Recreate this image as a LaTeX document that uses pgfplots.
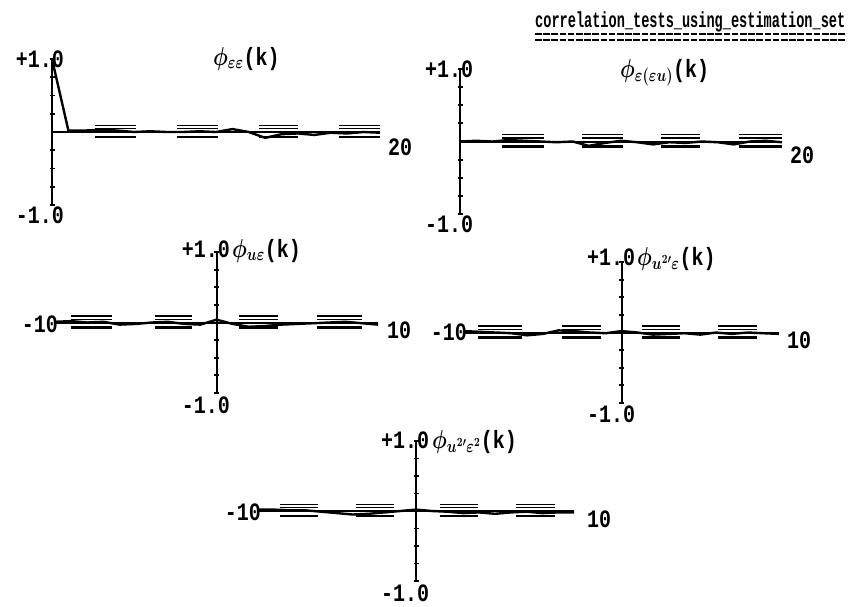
\documentclass[border=0pt]{standalone}
\usepackage{fontspec}
\usepackage{graphicx}
\usepackage{pgfplots}
\pgfplotsset{compat=1.18}
\newfontfamily\monofam{Liberation Mono}
% printer-like lettering: mono, bold, a little taller than wide
\newcommand{\lab}[1]{\scalebox{1}[1.25]{\fontsize{20}{22}\selectfont\monofam\bfseries\boldmath #1}}

\pgfplotsset{
  corr/.style={
    scale only axis, axis lines=middle, axis line style={-, line width=2pt},
    enlargelimits=false, clip=false,
    ymin=-1, ymax=1, xtick=\empty,
    ytick={-1,-0.75,-0.5,-0.25,0.25,0.5,0.75,1}, yticklabels={},
    tick align=center, major tick length=5pt,
    tick style={line width=1.8pt, black},
    unbounded coords=jump,
  },
  dat/.style={black, line width=2.4pt, line join=round},
  bandup/.style={black, line width=1.3pt, double=white, double distance=2pt},
  banddn/.style={black, line width=2.4pt},
}

\begin{document}
\begin{tikzpicture}
\useasboundingbox (0pt,0pt) rectangle (848pt,-606pt);

% title
\node[anchor=base west, inner sep=0] at (535pt,-27pt)
  {\scalebox{1}[1.6]{\fontsize{13.6}{15}\selectfont\monofam\bfseries correlation\_tests\_using\_estimation\_set}};
\draw[line width=1.6pt, dash pattern=on 6.6pt off 1.6pt] (535pt,-34pt) -- (845pt,-34pt);
\draw[line width=1.6pt, dash pattern=on 6.6pt off 1.6pt] (535pt,-40pt) -- (845pt,-40pt);

% ---- phi_ee(k), lags 0..20
\begin{axis}[corr, at={(52pt,-205pt)}, anchor=south west, width=328pt, height=146pt, xmin=0, xmax=20]
\addplot[dat] coordinates {(0,1.0)(1,0.02)(2,0.02)(3,0.03)(4,0.02)(5,0.0)(6,0.01)(7,0.0)(8,0.0)(9,0.01)(10,0.0)
  (11,0.04)(12,0.0)(13,-0.08)(14,-0.03)(15,-0.02)(16,-0.04)(17,-0.01)(18,-0.02)(19,0.0)(20,-0.01)};
\addplot[bandup] coordinates {(2.6,0.07)(5.1,0.07)(6,nan)(7.6,0.07)(10.1,0.07)(11,nan)(12.6,0.07)(15.0,0.07)(16,nan)(17.5,0.07)(20,0.07)};
\addplot[banddn] coordinates {(2.6,-0.07)(5.1,-0.07)(6,nan)(7.6,-0.07)(10.1,-0.07)(11,nan)(12.6,-0.07)(15.0,-0.07)(16,nan)(17.5,-0.07)(20,-0.07)};
\end{axis}
\node[anchor=base, inner sep=0] at (40pt,-67pt) {\lab{+1.0}};
\node[anchor=base, inner sep=0] at (40pt,-223pt) {\lab{-1.0}};
\node[anchor=base west, inner sep=0] at (388pt,-155pt) {\lab{20}};
\node[anchor=base west, inner sep=0] at (213pt,-65pt) {\lab{$\phi_{\varepsilon\varepsilon}$(k)}};

% ---- phi_e(eu)(k), lags 0..20
\begin{axis}[corr, at={(460pt,-214pt)}, anchor=south west, width=322pt, height=145pt, xmin=0, xmax=20]
\addplot[dat] coordinates {(0,0.0)(1,0.01)(2,0.0)(3,0.02)(4,0.01)(5,0.0)(6,-0.01)(7,0.0)(8,-0.06)(9,-0.02)(10,0.01)
  (11,-0.01)(12,-0.04)(13,-0.01)(14,-0.02)(15,0.0)(16,-0.01)(17,-0.04)(18,0.0)(19,0.01)(20,-0.01)};
\addplot[bandup] coordinates {(2.6,0.07)(5.2,0.07)(6,nan)(7.6,0.07)(10.1,0.07)(11,nan)(12.5,0.07)(14.9,0.07)(16,nan)(17.3,0.07)(20,0.07)};
\addplot[banddn] coordinates {(2.6,-0.07)(5.2,-0.07)(6,nan)(7.6,-0.07)(10.1,-0.07)(11,nan)(12.5,-0.07)(14.9,-0.07)(16,nan)(17.3,-0.07)(20,-0.07)};
\end{axis}
\node[anchor=base, inner sep=0] at (449pt,-77pt) {\lab{+1.0}};
\node[anchor=base, inner sep=0] at (449pt,-232pt) {\lab{-1.0}};
\node[anchor=base west, inner sep=0] at (790pt,-163pt) {\lab{20}};
\node[anchor=base west, inner sep=0] at (620pt,-77pt) {\lab{$\phi_{\varepsilon(\varepsilon u)}$(k)}};

% ---- phi_ue(k), lags -10..10
\begin{axis}[corr, at={(55pt,-393pt)}, anchor=south west, width=323pt, height=141pt, xmin=-10, xmax=10]
\addplot[dat] coordinates {(-10,0.01)(-9,0.02)(-8,0.0)(-7,0.01)(-6,-0.03)(-5,-0.02)(-4,0.0)(-3,0.01)(-2,-0.02)(-1,-0.03)(0,0.04)
  (1,-0.02)(2,-0.06)(3,-0.05)(4,-0.03)(5,-0.02)(6,-0.01)(7,0.0)(8,0.01)(9,-0.01)(10,-0.03)};
\addplot[bandup] coordinates {(-9,0.07)(-6.5,0.07)(-5,nan)(-3.8,0.07)(-1.5,0.07)(0,nan)(1.4,0.07)(3.8,0.07)(5,nan)(6.2,0.07)(9,0.07)};
\addplot[banddn] coordinates {(-9,-0.07)(-6.5,-0.07)(-5,nan)(-3.8,-0.07)(-1.5,-0.07)(0,nan)(1.4,-0.07)(3.8,-0.07)(5,nan)(6.2,-0.07)(9,-0.07)};
\end{axis}
\node[anchor=base, inner sep=0] at (206pt,-257pt) {\lab{+1.0}};
\node[anchor=base, inner sep=0] at (206pt,-413pt) {\lab{-1.0}};
\node[anchor=base east, inner sep=0] at (58pt,-332pt) {\lab{-10}};
\node[anchor=base west, inner sep=0] at (387pt,-338pt) {\lab{10}};
\node[anchor=base west, inner sep=0] at (232pt,-257pt) {\lab{$\phi_{u\varepsilon}$(k)}};

% ---- phi_u2'e(k), lags -10..10
\begin{axis}[corr, at={(464pt,-403pt)}, anchor=south west, width=315pt, height=141pt, xmin=-10, xmax=10]
\addplot[dat] coordinates {(-10,0.02)(-9,0.01)(-8,0.0)(-7,-0.01)(-6,-0.04)(-5,-0.02)(-4,0.03)(-3,0.02)(-2,0.0)(-1,-0.01)(0,0.02)
  (1,0.0)(2,-0.03)(3,-0.02)(4,-0.01)(5,-0.03)(6,0.0)(7,-0.02)(8,0.0)(9,-0.01)(10,-0.02)};
\addplot[bandup] coordinates {(-9.1,0.07)(-6.3,0.07)(-5,nan)(-3.8,0.07)(-1.3,0.07)(0,nan)(1.3,0.07)(3.7,0.07)(5,nan)(6.1,0.07)(8.6,0.07)};
\addplot[banddn] coordinates {(-9.1,-0.07)(-6.3,-0.07)(-5,nan)(-3.8,-0.07)(-1.3,-0.07)(0,nan)(1.3,-0.07)(3.7,-0.07)(5,nan)(6.1,-0.07)(8.6,-0.07)};
\end{axis}
\node[anchor=base, inner sep=0] at (611pt,-265pt) {\lab{+1.0}};
\node[anchor=base, inner sep=0] at (611pt,-422pt) {\lab{-1.0}};
\node[anchor=base east, inner sep=0] at (467pt,-340pt) {\lab{-10}};
\node[anchor=base west, inner sep=0] at (787pt,-348pt) {\lab{10}};
\node[anchor=base west, inner sep=0] at (637pt,-265pt) {\lab{$\phi_{u^{2\prime}\varepsilon}$(k)}};

% ---- phi_u2'e2(k), lags -10..10
\begin{axis}[corr, at={(258pt,-581pt)}, anchor=south west, width=316pt, height=140pt, xmin=-10, xmax=10]
\addplot[dat] coordinates {(-10,0.02)(-9,0.02)(-8,0.01)(-7,0.01)(-6,-0.01)(-5,-0.03)(-4,-0.05)(-3,-0.04)(-2,-0.02)(-1,0.0)(0,0.02)
  (1,0.0)(2,-0.01)(3,-0.03)(4,-0.02)(5,-0.04)(6,-0.02)(7,-0.01)(8,-0.03)(9,-0.02)(10,-0.02)};
\addplot[bandup] coordinates {(-8.6,0.07)(-6.2,0.07)(-5,nan)(-3.8,0.07)(-1.4,0.07)(0,nan)(1.5,0.07)(3.9,0.07)(5,nan)(6.3,0.07)(8.8,0.07)};
\addplot[banddn] coordinates {(-8.6,-0.07)(-6.2,-0.07)(-5,nan)(-3.8,-0.07)(-1.4,-0.07)(0,nan)(1.5,-0.07)(3.9,-0.07)(5,nan)(6.3,-0.07)(8.8,-0.07)};
\end{axis}
\node[anchor=base, inner sep=0] at (405pt,-448pt) {\lab{+1.0}};
\node[anchor=base, inner sep=0] at (405pt,-601pt) {\lab{-1.0}};
\node[anchor=base east, inner sep=0] at (261pt,-520pt) {\lab{-10}};
\node[anchor=base west, inner sep=0] at (587pt,-527pt) {\lab{10}};
\node[anchor=base west, inner sep=0] at (432pt,-448pt) {\lab{$\phi_{u^{2\prime}\varepsilon^{2}}$(k)}};
\end{tikzpicture}
\end{document}
